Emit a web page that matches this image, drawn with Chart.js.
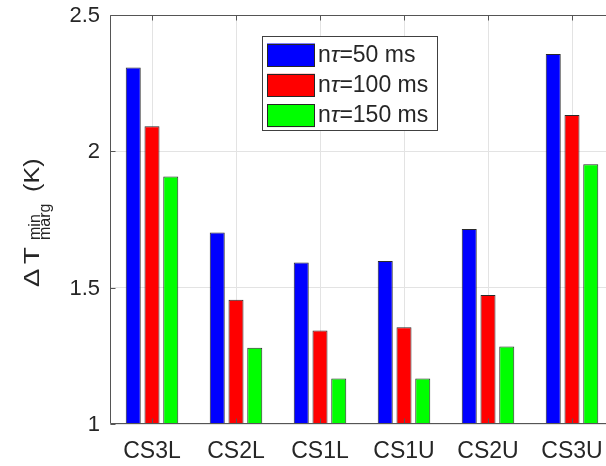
<!DOCTYPE html>
<html><head><meta charset="utf-8">
<script src="https://cdn.jsdelivr.net/npm/chart.js@4/dist/chart.umd.min.js"></script>
<style>html,body{margin:0;padding:0;overflow:hidden;background:#fff}#wrap{width:620px;height:466px}</style>
</head><body><div id="wrap"><canvas id="c" width="620" height="466"></canvas></div>
<script>
const categories = ['CS3L', 'CS2L', 'CS1L', 'CS1U', 'CS2U', 'CS3U'];
const seriesLabels = ['nτ=50 ms', 'nτ=100 ms', 'nτ=150 ms'];
const tau50 = [2.307, 1.702, 1.592, 1.598, 1.715, 2.357];
const tau100 = [2.092, 1.456, 1.343, 1.355, 1.473, 2.133];
const tau150 = [1.908, 1.280, 1.167, 1.167, 1.284, 1.953];
const yTicks = [1, 1.5, 2, 2.5];
const yTitle = { main1: 'Δ', main2: 'T', sup: 'min', sub: 'marg', unit: '(K)' };
const seriesColors = ['#0000ff', '#ff0000', '#00ff00'];

const FONT = "'Liberation Sans', Arial, Helvetica, sans-serif";
const TEXT = '#262626';
const AXIS = '#555555';

const axesPlugin = {
  id: 'axesBox',
  afterDatasetsDraw(chart) {
    const { ctx, chartArea: a, scales: { x, y } } = chart;
    ctx.save();
    ctx.strokeStyle = AXIS;
    ctx.lineWidth = 1;
    const L = Math.round(a.left) + 0.5, R = Math.round(a.right) - 0.5;
    const T = Math.round(a.top) + 0.5, B = Math.round(a.bottom) - 0.5;
    ctx.beginPath();
    ctx.moveTo(L, T); ctx.lineTo(R, T); ctx.lineTo(R, B); ctx.lineTo(L, B); ctx.closePath();
    yTicks.forEach(v => {
      const py = Math.round(y.getPixelForValue(v)) + 0.5;
      ctx.moveTo(L, py); ctx.lineTo(L + 5, py);
      ctx.moveTo(R, py); ctx.lineTo(R - 5, py);
    });
    categories.forEach((c, i) => {
      const px = Math.round(x.getPixelForValue(i)) + 0.5;
      ctx.moveTo(px, B); ctx.lineTo(px, B - 5);
      ctx.moveTo(px, T); ctx.lineTo(px, T + 5);
    });
    ctx.stroke();
    // y tick labels
    ctx.fillStyle = TEXT;
    ctx.font = '22px ' + FONT;
    ctx.textAlign = 'right';
    ctx.textBaseline = 'middle';
    yTicks.forEach(v => {
      ctx.fillText(String(v), a.left - 10, y.getPixelForValue(v) + 1);
    });
    ctx.restore();
  },
  afterDraw(chart) {
    const ctx = chart.ctx;
    ctx.save();
    // legend
    const bx = 262.5, by = 36.5, bw = 175, bh = 94;
    ctx.fillStyle = '#ffffff';
    ctx.fillRect(bx, by, bw, bh);
    ctx.strokeStyle = '#404040';
    ctx.lineWidth = 1;
    ctx.strokeRect(bx, by, bw, bh);
    chart.data.datasets.forEach((ds, i) => {
      const sy = 43.5 + i * 30.3;
      ctx.fillStyle = ds.backgroundColor;
      ctx.fillRect(267, sy, 48, 23);
      ctx.strokeStyle = '#262626';
      ctx.strokeRect(267.5, Math.round(sy) + 0.5, 47, 22);
      const cy = sy + 12;
      ctx.fillStyle = TEXT;
      ctx.textBaseline = 'middle';
      ctx.textAlign = 'left';
      let tx = 318;
      const parts = ds.label.split('τ');
      ctx.font = '23px ' + FONT;
      ctx.fillText(parts[0], tx, cy); tx += ctx.measureText(parts[0]).width;
      ctx.font = 'italic 23px ' + FONT;
      ctx.fillText('τ', tx, cy); tx += ctx.measureText('τ').width;
      ctx.font = '23px ' + FONT;
      ctx.fillText(parts[1], tx, cy);
    });
    // y title (rotated)
    ctx.translate(38.5, 288);
    ctx.rotate(-Math.PI / 2);
    ctx.fillStyle = TEXT;
    ctx.textBaseline = 'alphabetic';
    ctx.textAlign = 'left';
    ctx.save();
    ctx.scale(1.25, 1);
    ctx.font = '22px ' + FONT;
    ctx.fillText(yTitle.main1, 1 / 1.25, 0);
    ctx.fillText(yTitle.main2, 24 / 1.25, 0);
    ctx.restore();
    ctx.font = '16px ' + FONT;
    ctx.fillText(yTitle.sup, 48, 1.5);
    ctx.fillText(yTitle.sub, 48, 11.5);
    ctx.save();
    ctx.scale(1.15, 1);
    ctx.font = '22px ' + FONT;
    ctx.fillText(yTitle.unit, 96 / 1.15, 0);
    ctx.restore();
    ctx.restore();
  }
};

const allSeries = [tau50, tau100, tau150];
new Chart(document.getElementById('c'), {
  type: 'bar',
  data: {
    labels: categories,
    datasets: allSeries.map((d, i) => ({
      label: seriesLabels[i],
      data: d,
      backgroundColor: seriesColors[i],
      borderColor: '#2a2a2a',
      borderWidth: 1,
      barPercentage: 0.8,
      categoryPercentage: 0.67
    }))
  },
  options: {
    responsive: false,
    animation: false,
    devicePixelRatio: 1,
    layout: { padding: { top: 15, right: 6, left: 0, bottom: 0 } },
    plugins: { legend: { display: false }, tooltip: { enabled: false } },
    scales: {
      x: {
        offset: true,
        grid: { offset: false, color: '#e3e3e3', drawTicks: false },
        border: { display: false },
        ticks: { color: TEXT, font: { family: FONT, size: 23 }, padding: 14, maxRotation: 0, autoSkip: false },
        afterFit: s => { s.height = 42; }
      },
      y: {
        min: 1, max: 2.5,
        grid: { color: '#e3e3e3', drawTicks: false },
        border: { display: false },
        afterBuildTicks: s => { s.ticks = yTicks.map(v => ({ value: v })); },
        ticks: { display: false },
        afterFit: s => { s.width = 110; }
      }
    }
  },
  plugins: [axesPlugin]
});
</script>
</body></html>
